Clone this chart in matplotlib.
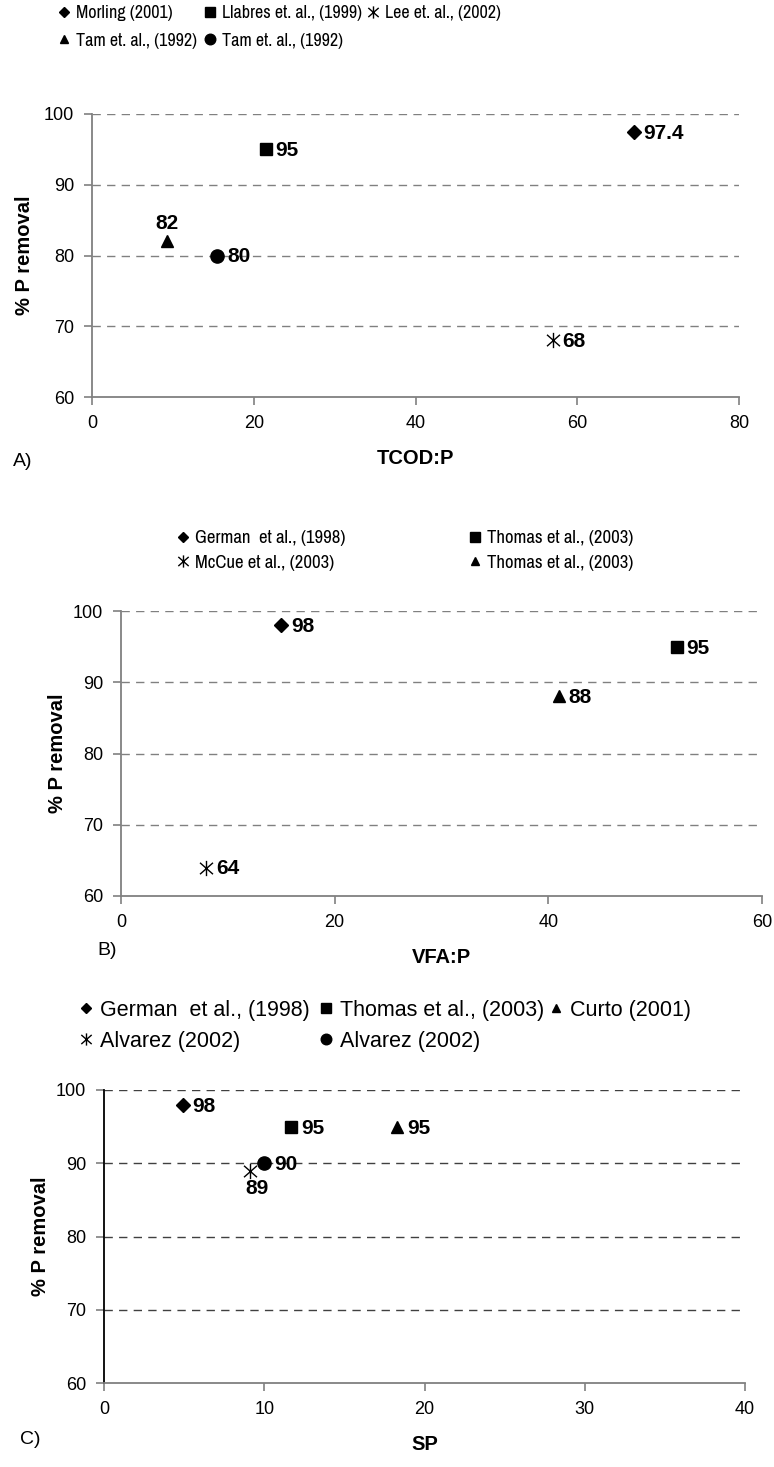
import matplotlib
matplotlib.use("Agg")
import matplotlib.pyplot as plt
from matplotlib.path import Path

NARROW = ["Archivo Narrow", "PT Sans Narrow", "Liberation Sans"]
REG = ["Liberation Sans", "DejaVu Sans"]

# ---- data ----
a_labels = ["Morling (2001)", "Llabres et. al., (1999)", "Lee et. al., (2002)",
            "Tam et. al., (1992)", "Tam et. al., (1992)"]
a_x = [67, 21.5, 57, 9.3, 15.5]
a_y = [97.4, 95, 68, 82, 80]
a_text = ["97.4", "95", "68", "82", "80"]

b_labels = ["German  et al., (1998)", "Thomas et al., (2003)",
            "McCue et al., (2003)", "Thomas et al., (2003)"]
b_x = [15, 52, 8, 41]
b_y = [98, 95, 64, 88]
b_text = ["98", "95", "64", "88"]

c_labels = ["German  et al., (1998)", "Thomas et al., (2003)", "Curto (2001)",
            "Alvarez (2002)", "Alvarez (2002)"]
c_x = [4.9, 11.7, 18.3, 9.1, 10.0]
c_y = [98, 95, 95, 89, 90]
c_text = ["98", "95", "95", "89", "90"]

# vertical bar plus an X, like the excel star marker
STAR = Path([(0, -1), (0, 1), (-0.85, -0.75), (0.85, 0.75), (-0.85, 0.75), (0.85, -0.75)],
            [Path.MOVETO, Path.LINETO] * 3)
W, H = 774, 1467
fig = plt.figure(figsize=(W / 100, H / 100), dpi=100)


def box(l, t, r, b):
    return [l / W, 1 - b / H, (r - l) / W, (b - t) / H]


def style(m):
    return {"D": ("D", 7), "s": ("s", 9), "^": ("^", 8), "o": ("o", 9.5), "*": (STAR, 11)}[m]


def panel(rect, xs, ys, texts, labels, marks, places, xmax, xstep, xlabel,
          font, gridcol, leftcol, ylab_x, tag, tag_x, tag_y, legcols, legsize, legsp):
    ax = fig.add_axes(box(*rect))
    handles = []
    for x, y, t, lab, m, p in zip(xs, ys, texts, labels, marks, places):
        mk, ms = style(m)
        h, = ax.plot([x], [y], linestyle="none", marker=mk, ms=ms, color="black",
                     mew=1.0, label=lab, clip_on=False, zorder=4)
        handles.append(h)
        kw = dict(textcoords="offset points", fontsize=15, fontweight="bold",
                  family=REG, zorder=5)
        if p == "right":
            ax.annotate(t, (x, y), xytext=(7, -1), ha="left", va="center", **kw)
        elif p == "above":
            ax.annotate(t, (x, y), xytext=(0, 6), ha="center", va="bottom", **kw)
        else:
            ax.annotate(t, (x, y), xytext=(5, -6), ha="center", va="top", **kw)
    ax.set_xlim(0, xmax)
    ax.set_ylim(60, 100)
    ax.set_xticks(range(0, xmax + 1, xstep))
    ax.set_yticks([60, 70, 80, 90, 100])
    for yv in [70, 80, 90, 100]:
        ax.axhline(yv, color=gridcol, lw=1, ls=(0, (6, 4.5)), zorder=1)
    for s in ["top", "right"]:
        ax.spines[s].set_visible(False)
    ax.spines["left"].set_color(leftcol)
    ax.spines["bottom"].set_color("#808080")
    ax.spines["left"].set_linewidth(1.3)
    ax.spines["bottom"].set_linewidth(1.3)
    ax.tick_params(axis="both", direction="out", length=6, width=1.2,
                   color="#808080", labelsize=13, pad=7)
    for lab in ax.get_xticklabels() + ax.get_yticklabels():
        lab.set_family(REG)
    ax.set_xlabel(xlabel, fontsize=14.5, fontweight="bold", family=REG, labelpad=12)
    ax.set_ylabel("% P removal", fontsize=14.5, fontweight="bold", family=REG)
    ax.yaxis.set_label_coords((ylab_x - rect[0]) / (rect[2] - rect[0]), 0.5)
    fig.text(tag_x / W, 1 - tag_y / H, tag, fontsize=14, family=REG,
             ha="left", va="center")
    # one small legend per column so the columns sit where the reference has them
    for idx, lx, ly in legcols:
        fig.legend([handles[i] for i in idx], [labels[i] for i in idx],
                   loc="upper left", bbox_to_anchor=(lx / W, 1 - ly / H),
                   frameon=False, prop={"family": font, "size": legsize},
                   handlelength=0.6, handletextpad=0.35, labelspacing=legsp,
                   borderpad=0, borderaxespad=0, markerscale=0.8)
    return ax


panel((92, 114, 739, 397), a_x, a_y, a_text, a_labels,
      ["D", "s", "*", "^", "o"], ["right", "right", "right", "above", "right"],
      80, 20, "TCOD:P", NARROW, "#808080", "#808080", 34, "A)", 13, 462,
      [([0, 3], 59, 5), ([1, 4], 205, 5), ([2], 368, 5)], 13, 0.65)

panel((121, 611, 762, 896), b_x, b_y, b_text, b_labels,
      ["D", "s", "*", "^"], ["right"] * 4,
      60, 20, "VFA:P", NARROW, "#808080", "#808080", 67, "B)", 97, 950,
      [([0, 2], 177, 530), ([1, 3], 469, 530)], 13.5, 0.45)

panel((104, 1090, 745, 1383), c_x, c_y, c_text, c_labels,
      ["D", "s", "^", "*", "o"], ["right", "right", "right", "below", "right"],
      40, 10, "SP", REG, "#404040", "black", 50, "C)", 20, 1440,
      [([0, 3], 80, 1000), ([1, 4], 320, 1000), ([2], 550, 1000)], 15.5, 0.45)

fig.savefig("out.png", dpi=100)
